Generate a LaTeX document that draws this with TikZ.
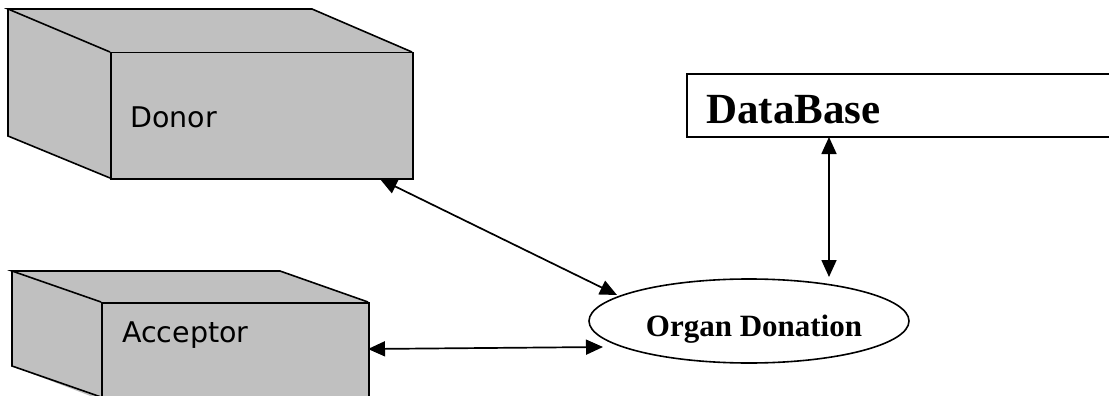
\documentclass[tikz,border=0pt]{standalone}
\usepackage{fontspec}
\setmainfont{Liberation Serif}
\newfontfamily\boxfont{DejaVu Sans}
\usetikzlibrary{arrows.meta,shapes.geometric}
\begin{document}
\begin{tikzpicture}[x=1pt,y=-1pt,
  edge/.style={line width=1.6pt, line join=miter},
  cube/.style={fill=boxgrey, draw=black, line width=1.5pt, line join=miter},
  cubelabel/.style={font=\boxfont\fontsize{28.5}{30}\selectfont, anchor=base west, inner sep=0pt},
  link/.style={line width=1.7pt, {Triangle[length=17pt,width=15pt]}-{Triangle[length=17pt,width=15pt]}},
  process/.style={ellipse, draw=black, line width=1.6pt, minimum width=320pt, minimum height=84pt, inner sep=0pt},
  store/.style={draw=black, line width=1.6pt},
]
\definecolor{boxgrey}{HTML}{C0C0C0}
\useasboundingbox (0,0) rectangle (1109,396);
\clip (0,0) rectangle (1109,396);

% Donor block: top face, left face, front face
\fill[boxgrey] (8,9) -- (312,9) -- (412,52) -- (110,52) -- cycle;
\fill[boxgrey] (8,9) -- (110,52) -- (110,178) -- (8,136) -- cycle;
\node[cube, minimum width=302pt, minimum height=126pt, anchor=north west, inner sep=0pt] (donor) at (110,52) {};
\draw[edge] (110,52) -- (8,9) -- (312,9) -- (412,52);
\draw[edge] (8,9) -- (8,136) -- (110,178);
\node[cubelabel] (donortxt) at (130,128) {Donor};

% Acceptor block, running past the lower edge
\fill[boxgrey] (12,271) -- (280,271) -- (368,302) -- (101,302) -- cycle;
\fill[boxgrey] (12,271) -- (101,302) -- (101,400) -- (12,366) -- cycle;
\node[cube, minimum width=267pt, minimum height=130pt, anchor=north west, inner sep=0pt] (acceptor) at (101,302) {};
\draw[edge] (101,302) -- (12,271) -- (280,271) -- (368,302);
\draw[edge] (12,271) -- (12,366) -- (101,397);
\node[cubelabel] (acctxt) at (122,342) {Acceptor};

% Data store, open past the right edge
\node[store, minimum width=460pt, minimum height=63pt, anchor=north west, inner sep=0pt] (db) at (686,73) {};
\node[font=\bfseries\fontsize{43}{45}\selectfont, anchor=base west, inner sep=0pt] (dbtxt) at (706,123) {DataBase};

% Process
\node[process] (organ) at (749,321) {};
\node[font=\bfseries\fontsize{31}{33}\selectfont, inner sep=0pt, anchor=base] (organtxt) at (754,336) {Organ Donation};

% Connector end points
\coordinate (dA) at (380,179);
\coordinate (dB) at (617,295);
\coordinate (aA) at (368,349);
\coordinate (aB) at (603,347);
\coordinate (bA) at (829,137);
\coordinate (bB) at (829,277);

\draw[link] (dA) -- (dB);
\draw[link] (aA) -- (aB);
\draw[link] (bA) -- (bB);
\end{tikzpicture}
\end{document}
